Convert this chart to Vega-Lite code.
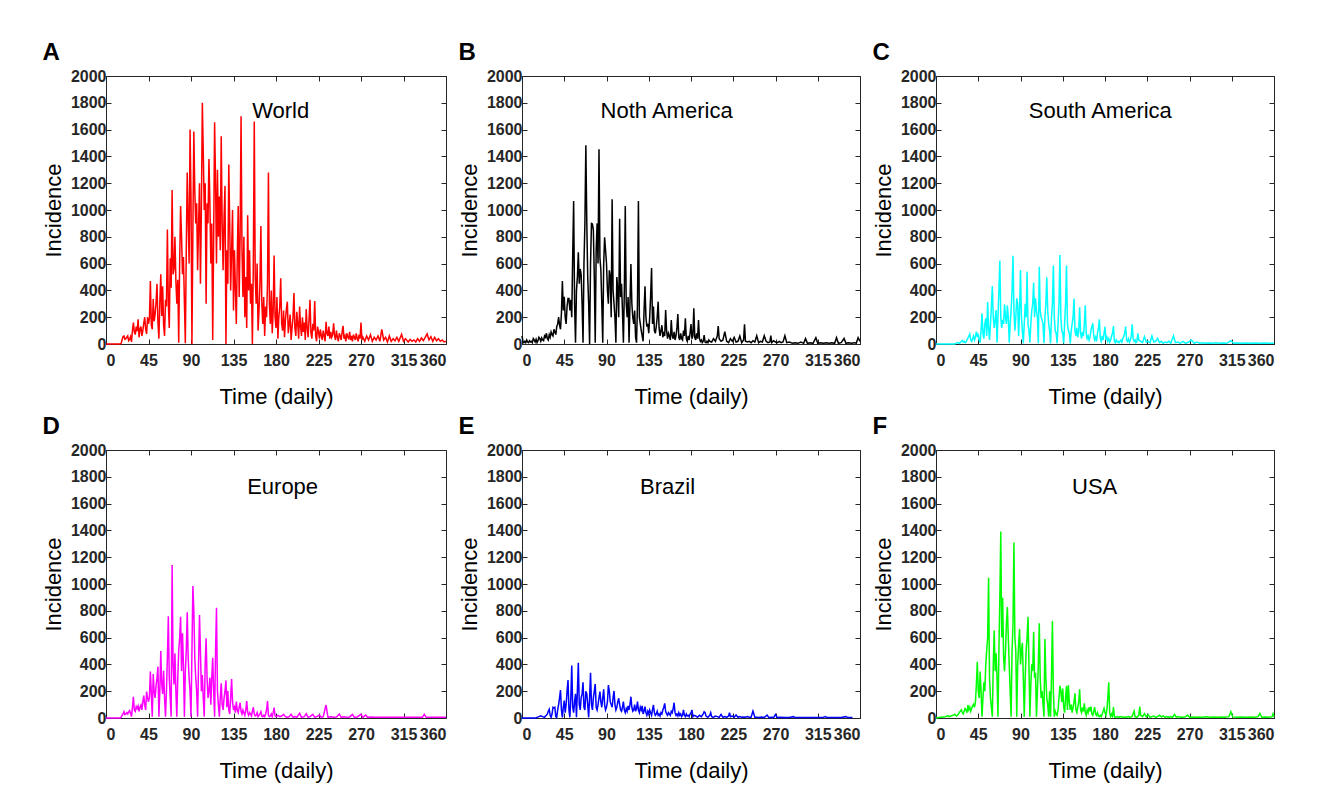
{
"$schema": "https://vega.github.io/schema/vega-lite/v6.json",
"padding": {"left": 41, "top": 40, "right": 5, "bottom": 5},
"background": "#ffffff",
"datasets": {
"world": [{"d":0,"v":0},{"d":15,"v":0},{"d":16,"v":5},{"d":17,"v":30},{"d":18,"v":55},{"d":19,"v":60},{"d":20,"v":35},{"d":21,"v":40},{"d":22,"v":50},{"d":23,"v":60},{"d":24,"v":25},{"d":25,"v":35},{"d":26,"v":55},{"d":27,"v":15},{"d":28,"v":100},{"d":29,"v":160},{"d":30,"v":90},{"d":31,"v":70},{"d":32,"v":130},{"d":33,"v":95},{"d":34,"v":185},{"d":35,"v":50},{"d":36,"v":110},{"d":37,"v":130},{"d":38,"v":60},{"d":39,"v":100},{"d":40,"v":155},{"d":41,"v":200},{"d":42,"v":110},{"d":43,"v":75},{"d":44,"v":200},{"d":45,"v":150},{"d":46,"v":190},{"d":47,"v":470},{"d":48,"v":140},{"d":49,"v":110},{"d":50,"v":335},{"d":51,"v":170},{"d":52,"v":220},{"d":53,"v":310},{"d":54,"v":450},{"d":55,"v":160},{"d":56,"v":40},{"d":57,"v":310},{"d":58,"v":520},{"d":59,"v":210},{"d":60,"v":430},{"d":61,"v":140},{"d":62,"v":60},{"d":63,"v":330},{"d":64,"v":280},{"d":65,"v":855},{"d":66,"v":300},{"d":67,"v":120},{"d":68,"v":640},{"d":69,"v":420},{"d":70,"v":1150},{"d":71,"v":520},{"d":72,"v":560},{"d":73,"v":800},{"d":74,"v":470},{"d":75,"v":300},{"d":76,"v":480},{"d":77,"v":10},{"d":78,"v":620},{"d":79,"v":1030},{"d":80,"v":800},{"d":81,"v":520},{"d":82,"v":650},{"d":83,"v":320},{"d":84,"v":5},{"d":85,"v":700},{"d":86,"v":1280},{"d":87,"v":930},{"d":88,"v":600},{"d":89,"v":1600},{"d":90,"v":1100},{"d":91,"v":0},{"d":92,"v":850},{"d":93,"v":1585},{"d":94,"v":1150},{"d":95,"v":900},{"d":96,"v":1050},{"d":97,"v":550},{"d":98,"v":880},{"d":99,"v":1200},{"d":100,"v":450},{"d":101,"v":1000},{"d":102,"v":1800},{"d":103,"v":1430},{"d":104,"v":1000},{"d":105,"v":1200},{"d":106,"v":300},{"d":107,"v":1050},{"d":108,"v":900},{"d":109,"v":1380},{"d":110,"v":1050},{"d":111,"v":600},{"d":112,"v":900},{"d":113,"v":30},{"d":114,"v":800},{"d":115,"v":1655},{"d":116,"v":1200},{"d":117,"v":600},{"d":118,"v":1300},{"d":119,"v":800},{"d":120,"v":1100},{"d":121,"v":700},{"d":122,"v":1550},{"d":123,"v":900},{"d":124,"v":550},{"d":125,"v":950},{"d":126,"v":1180},{"d":127,"v":0},{"d":128,"v":700},{"d":129,"v":450},{"d":130,"v":1340},{"d":131,"v":900},{"d":132,"v":400},{"d":133,"v":700},{"d":134,"v":1000},{"d":135,"v":250},{"d":136,"v":700},{"d":137,"v":420},{"d":138,"v":150},{"d":139,"v":650},{"d":140,"v":1030},{"d":141,"v":350},{"d":142,"v":800},{"d":143,"v":1700},{"d":144,"v":700},{"d":145,"v":350},{"d":146,"v":800},{"d":147,"v":200},{"d":148,"v":500},{"d":149,"v":120},{"d":150,"v":960},{"d":151,"v":400},{"d":152,"v":700},{"d":153,"v":300},{"d":154,"v":450},{"d":155,"v":0},{"d":156,"v":600},{"d":157,"v":1660},{"d":158,"v":500},{"d":159,"v":300},{"d":160,"v":600},{"d":161,"v":100},{"d":162,"v":250},{"d":163,"v":450},{"d":164,"v":880},{"d":165,"v":300},{"d":166,"v":150},{"d":167,"v":350},{"d":168,"v":60},{"d":169,"v":280},{"d":170,"v":200},{"d":171,"v":450},{"d":172,"v":1280},{"d":173,"v":300},{"d":174,"v":150},{"d":175,"v":400},{"d":176,"v":80},{"d":177,"v":250},{"d":178,"v":660},{"d":179,"v":200},{"d":180,"v":120},{"d":181,"v":350},{"d":182,"v":40},{"d":183,"v":200},{"d":184,"v":280},{"d":185,"v":490},{"d":186,"v":150},{"d":187,"v":100},{"d":188,"v":250},{"d":189,"v":50},{"d":190,"v":180},{"d":191,"v":260},{"d":192,"v":316},{"d":193,"v":80},{"d":194,"v":150},{"d":195,"v":220},{"d":196,"v":30},{"d":197,"v":120},{"d":198,"v":200},{"d":199,"v":380},{"d":200,"v":120},{"d":201,"v":60},{"d":202,"v":240},{"d":203,"v":150},{"d":204,"v":40},{"d":205,"v":280},{"d":206,"v":130},{"d":207,"v":60},{"d":208,"v":200},{"d":209,"v":90},{"d":210,"v":160},{"d":211,"v":30},{"d":212,"v":260},{"d":213,"v":120},{"d":214,"v":50},{"d":215,"v":180},{"d":216,"v":330},{"d":217,"v":80},{"d":218,"v":40},{"d":219,"v":150},{"d":220,"v":100},{"d":221,"v":320},{"d":222,"v":60},{"d":223,"v":20},{"d":224,"v":130},{"d":225,"v":90},{"d":226,"v":40},{"d":227,"v":110},{"d":228,"v":60},{"d":229,"v":30},{"d":230,"v":100},{"d":231,"v":60},{"d":232,"v":20},{"d":233,"v":165},{"d":234,"v":80},{"d":235,"v":60},{"d":236,"v":130},{"d":237,"v":40},{"d":238,"v":90},{"d":239,"v":50},{"d":240,"v":70},{"d":241,"v":155},{"d":242,"v":60},{"d":243,"v":30},{"d":244,"v":100},{"d":245,"v":50},{"d":246,"v":20},{"d":247,"v":80},{"d":248,"v":60},{"d":249,"v":30},{"d":250,"v":90},{"d":251,"v":135},{"d":252,"v":40},{"d":253,"v":60},{"d":254,"v":20},{"d":255,"v":80},{"d":256,"v":50},{"d":257,"v":40},{"d":258,"v":90},{"d":259,"v":30},{"d":260,"v":60},{"d":261,"v":20},{"d":262,"v":70},{"d":263,"v":50},{"d":264,"v":30},{"d":265,"v":80},{"d":266,"v":40},{"d":267,"v":20},{"d":268,"v":70},{"d":269,"v":40},{"d":270,"v":160},{"d":271,"v":30},{"d":272,"v":50},{"d":274,"v":20},{"d":276,"v":60},{"d":278,"v":30},{"d":280,"v":70},{"d":282,"v":20},{"d":284,"v":50},{"d":286,"v":30},{"d":288,"v":60},{"d":290,"v":20},{"d":292,"v":110},{"d":294,"v":30},{"d":296,"v":50},{"d":298,"v":15},{"d":300,"v":60},{"d":302,"v":20},{"d":304,"v":40},{"d":306,"v":25},{"d":308,"v":50},{"d":310,"v":20},{"d":313,"v":72},{"d":315,"v":20},{"d":317,"v":40},{"d":320,"v":15},{"d":322,"v":35},{"d":324,"v":20},{"d":326,"v":30},{"d":328,"v":15},{"d":330,"v":40},{"d":332,"v":20},{"d":334,"v":45},{"d":336,"v":25},{"d":338,"v":50},{"d":340,"v":75},{"d":342,"v":30},{"d":344,"v":55},{"d":346,"v":20},{"d":348,"v":50},{"d":350,"v":25},{"d":352,"v":40},{"d":354,"v":20},{"d":356,"v":30},{"d":358,"v":15},{"d":360,"v":20}],
"na": [{"d":0,"v":60},{"d":1,"v":20},{"d":2,"v":10},{"d":3,"v":20},{"d":4,"v":10},{"d":5,"v":30},{"d":6,"v":15},{"d":7,"v":10},{"d":8,"v":25},{"d":9,"v":15},{"d":10,"v":20},{"d":11,"v":10},{"d":12,"v":40},{"d":13,"v":30},{"d":14,"v":15},{"d":15,"v":35},{"d":16,"v":10},{"d":17,"v":25},{"d":18,"v":50},{"d":19,"v":40},{"d":20,"v":20},{"d":21,"v":45},{"d":22,"v":30},{"d":23,"v":25},{"d":24,"v":60},{"d":25,"v":50},{"d":26,"v":80},{"d":27,"v":40},{"d":28,"v":30},{"d":29,"v":70},{"d":30,"v":50},{"d":31,"v":90},{"d":32,"v":70},{"d":33,"v":60},{"d":34,"v":110},{"d":35,"v":90},{"d":36,"v":70},{"d":37,"v":130},{"d":38,"v":150},{"d":39,"v":200},{"d":40,"v":140},{"d":41,"v":110},{"d":42,"v":230},{"d":43,"v":470},{"d":44,"v":250},{"d":45,"v":353},{"d":46,"v":200},{"d":47,"v":150},{"d":48,"v":280},{"d":49,"v":340},{"d":50,"v":340},{"d":51,"v":250},{"d":52,"v":330},{"d":53,"v":200},{"d":54,"v":660},{"d":55,"v":1067},{"d":56,"v":300},{"d":57,"v":10},{"d":58,"v":400},{"d":59,"v":500},{"d":60,"v":685},{"d":61,"v":450},{"d":62,"v":560},{"d":63,"v":520},{"d":64,"v":300},{"d":65,"v":10},{"d":66,"v":600},{"d":67,"v":900},{"d":68,"v":1483},{"d":69,"v":913},{"d":70,"v":500},{"d":71,"v":300},{"d":72,"v":0},{"d":73,"v":600},{"d":74,"v":900},{"d":75,"v":896},{"d":76,"v":850},{"d":77,"v":500},{"d":78,"v":10},{"d":79,"v":700},{"d":80,"v":900},{"d":81,"v":600},{"d":82,"v":1453},{"d":83,"v":644},{"d":84,"v":550},{"d":85,"v":300},{"d":86,"v":10},{"d":87,"v":600},{"d":88,"v":796},{"d":89,"v":700},{"d":90,"v":602},{"d":91,"v":400},{"d":92,"v":300},{"d":93,"v":550},{"d":94,"v":507},{"d":95,"v":200},{"d":96,"v":1080},{"d":97,"v":400},{"d":98,"v":300},{"d":99,"v":200},{"d":100,"v":10},{"d":101,"v":500},{"d":102,"v":400},{"d":103,"v":200},{"d":104,"v":935},{"d":105,"v":350},{"d":106,"v":450},{"d":107,"v":250},{"d":108,"v":10},{"d":109,"v":400},{"d":110,"v":1030},{"d":111,"v":300},{"d":112,"v":200},{"d":113,"v":350},{"d":114,"v":10},{"d":115,"v":300},{"d":116,"v":597},{"d":117,"v":300},{"d":118,"v":200},{"d":119,"v":150},{"d":120,"v":250},{"d":121,"v":50},{"d":122,"v":10},{"d":123,"v":300},{"d":124,"v":1067},{"d":125,"v":200},{"d":126,"v":150},{"d":127,"v":100},{"d":128,"v":60},{"d":129,"v":20},{"d":130,"v":250},{"d":131,"v":430},{"d":132,"v":200},{"d":133,"v":130},{"d":134,"v":150},{"d":135,"v":80},{"d":136,"v":200},{"d":137,"v":360},{"d":138,"v":567},{"d":139,"v":150},{"d":140,"v":280},{"d":141,"v":100},{"d":142,"v":80},{"d":143,"v":130},{"d":144,"v":200},{"d":145,"v":316},{"d":146,"v":120},{"d":147,"v":60},{"d":148,"v":100},{"d":149,"v":140},{"d":150,"v":50},{"d":151,"v":90},{"d":152,"v":60},{"d":153,"v":254},{"d":154,"v":100},{"d":155,"v":40},{"d":156,"v":80},{"d":157,"v":60},{"d":158,"v":30},{"d":159,"v":179},{"d":160,"v":60},{"d":161,"v":40},{"d":162,"v":90},{"d":163,"v":30},{"d":164,"v":60},{"d":165,"v":120},{"d":166,"v":224},{"d":167,"v":50},{"d":168,"v":30},{"d":169,"v":80},{"d":170,"v":40},{"d":171,"v":30},{"d":172,"v":100},{"d":173,"v":60},{"d":174,"v":192},{"d":175,"v":40},{"d":176,"v":20},{"d":177,"v":60},{"d":178,"v":30},{"d":179,"v":80},{"d":180,"v":149},{"d":181,"v":40},{"d":182,"v":60},{"d":183,"v":266},{"d":184,"v":50},{"d":185,"v":30},{"d":186,"v":80},{"d":187,"v":40},{"d":188,"v":179},{"d":189,"v":40},{"d":190,"v":20},{"d":191,"v":30},{"d":192,"v":10},{"d":193,"v":20},{"d":194,"v":67},{"d":195,"v":15},{"d":196,"v":10},{"d":197,"v":20},{"d":198,"v":10},{"d":199,"v":30},{"d":200,"v":20},{"d":202,"v":15},{"d":204,"v":40},{"d":206,"v":20},{"d":208,"v":60},{"d":209,"v":134},{"d":210,"v":40},{"d":212,"v":20},{"d":214,"v":30},{"d":216,"v":92},{"d":218,"v":20},{"d":220,"v":10},{"d":222,"v":40},{"d":224,"v":20},{"d":226,"v":50},{"d":228,"v":15},{"d":230,"v":20},{"d":232,"v":60},{"d":234,"v":10},{"d":236,"v":30},{"d":237,"v":147},{"d":238,"v":20},{"d":240,"v":15},{"d":242,"v":20},{"d":244,"v":10},{"d":246,"v":25},{"d":248,"v":15},{"d":250,"v":62},{"d":252,"v":10},{"d":254,"v":20},{"d":256,"v":15},{"d":258,"v":62},{"d":260,"v":20},{"d":262,"v":10},{"d":264,"v":15},{"d":265,"v":62},{"d":266,"v":10},{"d":268,"v":25},{"d":270,"v":15},{"d":272,"v":10},{"d":274,"v":20},{"d":276,"v":10},{"d":278,"v":15},{"d":280,"v":62},{"d":282,"v":10},{"d":285,"v":15},{"d":288,"v":5},{"d":291,"v":10},{"d":294,"v":5},{"d":297,"v":15},{"d":300,"v":5},{"d":302,"v":40},{"d":304,"v":5},{"d":307,"v":10},{"d":310,"v":5},{"d":313,"v":47},{"d":315,"v":5},{"d":318,"v":10},{"d":321,"v":5},{"d":324,"v":10},{"d":327,"v":5},{"d":330,"v":10},{"d":333,"v":5},{"d":335,"v":47},{"d":337,"v":5},{"d":340,"v":10},{"d":343,"v":42},{"d":345,"v":5},{"d":348,"v":10},{"d":351,"v":5},{"d":354,"v":10},{"d":356,"v":5},{"d":358,"v":47},{"d":360,"v":20}],
"sa": [{"d":0,"v":0},{"d":20,"v":0},{"d":21,"v":5},{"d":23,"v":10},{"d":25,"v":5},{"d":27,"v":20},{"d":28,"v":25},{"d":29,"v":15},{"d":30,"v":20},{"d":31,"v":10},{"d":32,"v":15},{"d":33,"v":30},{"d":34,"v":45},{"d":35,"v":60},{"d":36,"v":75},{"d":37,"v":30},{"d":38,"v":20},{"d":39,"v":40},{"d":40,"v":60},{"d":41,"v":30},{"d":42,"v":50},{"d":43,"v":92},{"d":44,"v":60},{"d":45,"v":70},{"d":46,"v":30},{"d":47,"v":10},{"d":48,"v":100},{"d":49,"v":229},{"d":50,"v":80},{"d":51,"v":40},{"d":52,"v":150},{"d":53,"v":192},{"d":54,"v":60},{"d":55,"v":313},{"d":56,"v":120},{"d":57,"v":30},{"d":58,"v":150},{"d":59,"v":280},{"d":60,"v":433},{"d":61,"v":200},{"d":62,"v":120},{"d":63,"v":180},{"d":64,"v":254},{"d":65,"v":10},{"d":66,"v":200},{"d":67,"v":400},{"d":68,"v":622},{"d":69,"v":200},{"d":70,"v":120},{"d":71,"v":180},{"d":72,"v":150},{"d":73,"v":296},{"d":74,"v":200},{"d":75,"v":150},{"d":76,"v":289},{"d":77,"v":200},{"d":78,"v":10},{"d":79,"v":150},{"d":80,"v":250},{"d":81,"v":400},{"d":82,"v":659},{"d":83,"v":250},{"d":84,"v":100},{"d":85,"v":200},{"d":86,"v":341},{"d":87,"v":300},{"d":88,"v":60},{"d":89,"v":250},{"d":90,"v":552},{"d":91,"v":200},{"d":92,"v":100},{"d":93,"v":5},{"d":94,"v":150},{"d":95,"v":300},{"d":96,"v":200},{"d":97,"v":540},{"d":98,"v":150},{"d":99,"v":100},{"d":100,"v":10},{"d":101,"v":150},{"d":102,"v":250},{"d":103,"v":300},{"d":104,"v":458},{"d":105,"v":200},{"d":106,"v":341},{"d":107,"v":250},{"d":108,"v":200},{"d":109,"v":5},{"d":110,"v":577},{"d":111,"v":250},{"d":112,"v":200},{"d":113,"v":180},{"d":114,"v":150},{"d":115,"v":5},{"d":116,"v":200},{"d":117,"v":300},{"d":118,"v":498},{"d":119,"v":250},{"d":120,"v":150},{"d":121,"v":100},{"d":122,"v":5},{"d":123,"v":200},{"d":124,"v":300},{"d":125,"v":585},{"d":126,"v":200},{"d":127,"v":100},{"d":128,"v":80},{"d":129,"v":5},{"d":130,"v":150},{"d":131,"v":300},{"d":132,"v":664},{"d":133,"v":200},{"d":134,"v":100},{"d":135,"v":80},{"d":136,"v":5},{"d":137,"v":150},{"d":138,"v":300},{"d":139,"v":585},{"d":140,"v":150},{"d":141,"v":100},{"d":142,"v":80},{"d":143,"v":5},{"d":144,"v":100},{"d":145,"v":150},{"d":146,"v":200},{"d":147,"v":338},{"d":148,"v":100},{"d":149,"v":60},{"d":150,"v":120},{"d":151,"v":50},{"d":152,"v":100},{"d":153,"v":274},{"d":154,"v":80},{"d":155,"v":40},{"d":156,"v":90},{"d":157,"v":60},{"d":158,"v":150},{"d":159,"v":289},{"d":160,"v":80},{"d":161,"v":40},{"d":162,"v":60},{"d":163,"v":30},{"d":164,"v":50},{"d":165,"v":100},{"d":166,"v":130},{"d":167,"v":154},{"d":168,"v":60},{"d":169,"v":30},{"d":170,"v":50},{"d":171,"v":20},{"d":172,"v":80},{"d":173,"v":120},{"d":174,"v":184},{"d":175,"v":40},{"d":176,"v":20},{"d":177,"v":60},{"d":178,"v":30},{"d":179,"v":80},{"d":180,"v":129},{"d":181,"v":30},{"d":182,"v":50},{"d":183,"v":20},{"d":184,"v":40},{"d":185,"v":15},{"d":186,"v":30},{"d":187,"v":60},{"d":188,"v":80},{"d":189,"v":134},{"d":190,"v":20},{"d":191,"v":10},{"d":192,"v":30},{"d":193,"v":15},{"d":194,"v":20},{"d":195,"v":10},{"d":196,"v":20},{"d":197,"v":30},{"d":198,"v":15},{"d":199,"v":40},{"d":200,"v":60},{"d":201,"v":80},{"d":202,"v":129},{"d":203,"v":30},{"d":204,"v":20},{"d":205,"v":40},{"d":206,"v":15},{"d":207,"v":30},{"d":208,"v":60},{"d":209,"v":147},{"d":210,"v":40},{"d":211,"v":20},{"d":212,"v":30},{"d":213,"v":10},{"d":214,"v":20},{"d":215,"v":80},{"d":216,"v":30},{"d":218,"v":20},{"d":220,"v":10},{"d":222,"v":55},{"d":224,"v":15},{"d":226,"v":20},{"d":228,"v":10},{"d":230,"v":60},{"d":232,"v":15},{"d":234,"v":20},{"d":236,"v":42},{"d":238,"v":10},{"d":240,"v":20},{"d":242,"v":5},{"d":244,"v":15},{"d":246,"v":10},{"d":248,"v":20},{"d":250,"v":5},{"d":253,"v":60},{"d":255,"v":10},{"d":258,"v":15},{"d":260,"v":5},{"d":263,"v":20},{"d":266,"v":5},{"d":269,"v":15},{"d":272,"v":30},{"d":275,"v":5},{"d":278,"v":15},{"d":281,"v":5},{"d":284,"v":10},{"d":287,"v":5},{"d":290,"v":8},{"d":294,"v":5},{"d":298,"v":10},{"d":302,"v":5},{"d":306,"v":8},{"d":310,"v":5},{"d":314,"v":25},{"d":317,"v":5},{"d":320,"v":8},{"d":325,"v":5},{"d":330,"v":8},{"d":335,"v":5},{"d":340,"v":8},{"d":345,"v":5},{"d":350,"v":8},{"d":355,"v":5},{"d":360,"v":5}],
"eu": [{"d":0,"v":0},{"d":15,"v":0},{"d":16,"v":5},{"d":17,"v":20},{"d":18,"v":30},{"d":19,"v":47},{"d":20,"v":25},{"d":21,"v":30},{"d":22,"v":40},{"d":23,"v":30},{"d":24,"v":45},{"d":25,"v":55},{"d":26,"v":35},{"d":27,"v":10},{"d":28,"v":80},{"d":29,"v":159},{"d":30,"v":60},{"d":31,"v":50},{"d":32,"v":85},{"d":33,"v":70},{"d":34,"v":90},{"d":35,"v":50},{"d":36,"v":80},{"d":37,"v":97},{"d":38,"v":60},{"d":39,"v":120},{"d":40,"v":167},{"d":41,"v":100},{"d":42,"v":60},{"d":43,"v":197},{"d":44,"v":150},{"d":45,"v":120},{"d":46,"v":160},{"d":47,"v":346},{"d":48,"v":180},{"d":49,"v":10},{"d":50,"v":328},{"d":51,"v":200},{"d":52,"v":150},{"d":53,"v":240},{"d":54,"v":300},{"d":55,"v":383},{"d":56,"v":10},{"d":57,"v":200},{"d":58,"v":500},{"d":59,"v":250},{"d":60,"v":180},{"d":61,"v":353},{"d":62,"v":150},{"d":63,"v":10},{"d":64,"v":200},{"d":65,"v":450},{"d":66,"v":759},{"d":67,"v":300},{"d":68,"v":150},{"d":69,"v":10},{"d":70,"v":1142},{"d":71,"v":400},{"d":72,"v":250},{"d":73,"v":483},{"d":74,"v":200},{"d":75,"v":10},{"d":76,"v":300},{"d":77,"v":500},{"d":78,"v":600},{"d":79,"v":756},{"d":80,"v":350},{"d":81,"v":632},{"d":82,"v":400},{"d":83,"v":10},{"d":84,"v":350},{"d":85,"v":500},{"d":86,"v":789},{"d":87,"v":450},{"d":88,"v":300},{"d":89,"v":200},{"d":90,"v":10},{"d":91,"v":500},{"d":92,"v":985},{"d":93,"v":800},{"d":94,"v":450},{"d":95,"v":300},{"d":96,"v":200},{"d":97,"v":10},{"d":98,"v":400},{"d":99,"v":769},{"d":100,"v":500},{"d":101,"v":200},{"d":102,"v":321},{"d":103,"v":150},{"d":104,"v":10},{"d":105,"v":400},{"d":106,"v":595},{"d":107,"v":300},{"d":108,"v":150},{"d":109,"v":200},{"d":110,"v":301},{"d":111,"v":100},{"d":112,"v":300},{"d":113,"v":450},{"d":114,"v":200},{"d":115,"v":10},{"d":116,"v":500},{"d":117,"v":823},{"d":118,"v":200},{"d":119,"v":100},{"d":120,"v":10},{"d":121,"v":150},{"d":122,"v":259},{"d":123,"v":100},{"d":124,"v":60},{"d":125,"v":150},{"d":126,"v":200},{"d":127,"v":279},{"d":128,"v":80},{"d":129,"v":201},{"d":130,"v":60},{"d":131,"v":30},{"d":132,"v":150},{"d":133,"v":291},{"d":134,"v":120},{"d":135,"v":60},{"d":136,"v":80},{"d":137,"v":40},{"d":138,"v":122},{"d":139,"v":60},{"d":140,"v":40},{"d":141,"v":80},{"d":142,"v":114},{"d":143,"v":50},{"d":144,"v":30},{"d":145,"v":60},{"d":146,"v":40},{"d":147,"v":20},{"d":148,"v":60},{"d":149,"v":127},{"d":150,"v":40},{"d":151,"v":20},{"d":152,"v":40},{"d":153,"v":30},{"d":154,"v":15},{"d":155,"v":50},{"d":156,"v":80},{"d":157,"v":30},{"d":158,"v":15},{"d":159,"v":20},{"d":160,"v":40},{"d":161,"v":10},{"d":162,"v":20},{"d":163,"v":30},{"d":164,"v":47},{"d":165,"v":15},{"d":166,"v":10},{"d":167,"v":20},{"d":168,"v":10},{"d":169,"v":30},{"d":170,"v":60},{"d":171,"v":127},{"d":172,"v":20},{"d":173,"v":10},{"d":174,"v":15},{"d":175,"v":30},{"d":176,"v":10},{"d":177,"v":40},{"d":178,"v":77},{"d":179,"v":15},{"d":180,"v":10},{"d":182,"v":20},{"d":184,"v":10},{"d":186,"v":15},{"d":188,"v":27},{"d":190,"v":10},{"d":192,"v":5},{"d":194,"v":10},{"d":196,"v":27},{"d":198,"v":5},{"d":200,"v":10},{"d":202,"v":5},{"d":205,"v":35},{"d":207,"v":5},{"d":210,"v":10},{"d":212,"v":32},{"d":214,"v":5},{"d":216,"v":10},{"d":219,"v":27},{"d":221,"v":5},{"d":223,"v":10},{"d":226,"v":22},{"d":228,"v":5},{"d":230,"v":10},{"d":233,"v":97},{"d":235,"v":5},{"d":238,"v":10},{"d":241,"v":5},{"d":244,"v":8},{"d":247,"v":30},{"d":249,"v":5},{"d":252,"v":10},{"d":255,"v":5},{"d":258,"v":8},{"d":261,"v":27},{"d":263,"v":5},{"d":266,"v":8},{"d":270,"v":27},{"d":272,"v":5},{"d":275,"v":22},{"d":277,"v":5},{"d":280,"v":8},{"d":285,"v":5},{"d":290,"v":5},{"d":295,"v":5},{"d":300,"v":5},{"d":305,"v":5},{"d":310,"v":5},{"d":315,"v":5},{"d":320,"v":5},{"d":325,"v":5},{"d":330,"v":5},{"d":335,"v":5},{"d":337,"v":27},{"d":339,"v":5},{"d":345,"v":5},{"d":350,"v":5},{"d":355,"v":5},{"d":360,"v":5}],
"br": [{"d":0,"v":0},{"d":15,"v":0},{"d":16,"v":5},{"d":18,"v":10},{"d":20,"v":17},{"d":22,"v":10},{"d":24,"v":5},{"d":25,"v":15},{"d":26,"v":20},{"d":27,"v":30},{"d":28,"v":50},{"d":29,"v":65},{"d":30,"v":20},{"d":31,"v":5},{"d":32,"v":30},{"d":33,"v":80},{"d":34,"v":75},{"d":35,"v":80},{"d":36,"v":10},{"d":37,"v":5},{"d":38,"v":60},{"d":39,"v":100},{"d":40,"v":150},{"d":41,"v":209},{"d":42,"v":60},{"d":43,"v":5},{"d":44,"v":80},{"d":45,"v":130},{"d":46,"v":40},{"d":47,"v":100},{"d":48,"v":200},{"d":49,"v":284},{"d":50,"v":60},{"d":51,"v":5},{"d":52,"v":150},{"d":53,"v":391},{"d":54,"v":80},{"d":55,"v":40},{"d":56,"v":120},{"d":57,"v":180},{"d":58,"v":5},{"d":59,"v":200},{"d":60,"v":413},{"d":61,"v":100},{"d":62,"v":60},{"d":63,"v":150},{"d":64,"v":180},{"d":65,"v":266},{"d":66,"v":80},{"d":67,"v":60},{"d":68,"v":200},{"d":69,"v":180},{"d":70,"v":100},{"d":71,"v":5},{"d":72,"v":150},{"d":73,"v":338},{"d":74,"v":100},{"d":75,"v":60},{"d":76,"v":150},{"d":77,"v":200},{"d":78,"v":254},{"d":79,"v":80},{"d":80,"v":60},{"d":81,"v":100},{"d":82,"v":150},{"d":83,"v":197},{"d":84,"v":120},{"d":85,"v":80},{"d":86,"v":150},{"d":87,"v":214},{"d":88,"v":100},{"d":89,"v":60},{"d":90,"v":80},{"d":91,"v":120},{"d":92,"v":246},{"d":93,"v":200},{"d":94,"v":120},{"d":95,"v":100},{"d":96,"v":80},{"d":97,"v":150},{"d":98,"v":202},{"d":99,"v":100},{"d":100,"v":60},{"d":101,"v":80},{"d":102,"v":120},{"d":103,"v":147},{"d":104,"v":100},{"d":105,"v":60},{"d":106,"v":50},{"d":107,"v":80},{"d":108,"v":122},{"d":109,"v":60},{"d":110,"v":40},{"d":111,"v":70},{"d":112,"v":50},{"d":113,"v":90},{"d":114,"v":60},{"d":115,"v":100},{"d":116,"v":159},{"d":117,"v":80},{"d":118,"v":50},{"d":119,"v":60},{"d":120,"v":100},{"d":121,"v":50},{"d":122,"v":70},{"d":123,"v":122},{"d":124,"v":60},{"d":125,"v":40},{"d":126,"v":80},{"d":127,"v":60},{"d":128,"v":90},{"d":129,"v":30},{"d":130,"v":50},{"d":131,"v":85},{"d":132,"v":40},{"d":133,"v":20},{"d":134,"v":50},{"d":135,"v":30},{"d":136,"v":60},{"d":137,"v":40},{"d":138,"v":20},{"d":139,"v":60},{"d":140,"v":97},{"d":141,"v":40},{"d":142,"v":20},{"d":143,"v":30},{"d":144,"v":50},{"d":145,"v":20},{"d":146,"v":30},{"d":147,"v":15},{"d":148,"v":40},{"d":149,"v":30},{"d":150,"v":60},{"d":151,"v":80},{"d":152,"v":109},{"d":153,"v":50},{"d":154,"v":30},{"d":155,"v":20},{"d":156,"v":40},{"d":157,"v":30},{"d":158,"v":20},{"d":159,"v":50},{"d":160,"v":40},{"d":161,"v":70},{"d":162,"v":114},{"d":163,"v":40},{"d":164,"v":20},{"d":165,"v":30},{"d":166,"v":15},{"d":167,"v":40},{"d":168,"v":20},{"d":169,"v":30},{"d":170,"v":10},{"d":171,"v":20},{"d":172,"v":60},{"d":173,"v":20},{"d":174,"v":10},{"d":175,"v":30},{"d":176,"v":15},{"d":177,"v":20},{"d":178,"v":10},{"d":179,"v":30},{"d":180,"v":40},{"d":181,"v":60},{"d":182,"v":10},{"d":183,"v":20},{"d":185,"v":15},{"d":187,"v":5},{"d":189,"v":20},{"d":191,"v":10},{"d":193,"v":30},{"d":194,"v":47},{"d":195,"v":40},{"d":196,"v":15},{"d":198,"v":5},{"d":200,"v":20},{"d":201,"v":40},{"d":202,"v":10},{"d":204,"v":5},{"d":206,"v":15},{"d":208,"v":10},{"d":210,"v":5},{"d":212,"v":27},{"d":214,"v":5},{"d":216,"v":10},{"d":218,"v":5},{"d":220,"v":15},{"d":221,"v":40},{"d":222,"v":10},{"d":224,"v":15},{"d":226,"v":5},{"d":228,"v":22},{"d":230,"v":5},{"d":232,"v":10},{"d":234,"v":5},{"d":236,"v":8},{"d":238,"v":5},{"d":240,"v":10},{"d":242,"v":5},{"d":244,"v":5},{"d":246,"v":52},{"d":248,"v":5},{"d":250,"v":5},{"d":252,"v":3},{"d":255,"v":8},{"d":258,"v":3},{"d":261,"v":22},{"d":263,"v":3},{"d":266,"v":5},{"d":268,"v":3},{"d":270,"v":27},{"d":272,"v":3},{"d":275,"v":5},{"d":280,"v":3},{"d":285,"v":3},{"d":289,"v":10},{"d":291,"v":3},{"d":295,"v":3},{"d":300,"v":3},{"d":305,"v":3},{"d":310,"v":3},{"d":315,"v":3},{"d":320,"v":3},{"d":323,"v":10},{"d":325,"v":3},{"d":330,"v":3},{"d":335,"v":3},{"d":340,"v":3},{"d":345,"v":10},{"d":347,"v":3},{"d":350,"v":3},{"d":352,"v":3}],
"us": [{"d":0,"v":0},{"d":5,"v":5},{"d":10,"v":10},{"d":12,"v":15},{"d":13,"v":17},{"d":14,"v":10},{"d":16,"v":15},{"d":18,"v":20},{"d":20,"v":27},{"d":22,"v":15},{"d":24,"v":30},{"d":25,"v":45},{"d":26,"v":50},{"d":27,"v":60},{"d":28,"v":40},{"d":29,"v":30},{"d":30,"v":50},{"d":31,"v":70},{"d":32,"v":60},{"d":33,"v":40},{"d":34,"v":97},{"d":35,"v":60},{"d":36,"v":80},{"d":37,"v":50},{"d":38,"v":72},{"d":39,"v":90},{"d":40,"v":102},{"d":41,"v":80},{"d":42,"v":120},{"d":43,"v":250},{"d":44,"v":420},{"d":45,"v":200},{"d":46,"v":150},{"d":47,"v":346},{"d":48,"v":200},{"d":49,"v":10},{"d":50,"v":150},{"d":51,"v":266},{"d":52,"v":200},{"d":53,"v":400},{"d":54,"v":500},{"d":55,"v":602},{"d":56,"v":1047},{"d":57,"v":300},{"d":58,"v":150},{"d":59,"v":80},{"d":60,"v":10},{"d":61,"v":400},{"d":62,"v":652},{"d":63,"v":350},{"d":64,"v":483},{"d":65,"v":300},{"d":66,"v":10},{"d":67,"v":500},{"d":68,"v":900},{"d":69,"v":1391},{"d":70,"v":600},{"d":71,"v":898},{"d":72,"v":450},{"d":73,"v":350},{"d":74,"v":500},{"d":75,"v":700},{"d":76,"v":828},{"d":77,"v":600},{"d":78,"v":400},{"d":79,"v":200},{"d":80,"v":10},{"d":81,"v":500},{"d":82,"v":700},{"d":83,"v":1309},{"d":84,"v":600},{"d":85,"v":500},{"d":86,"v":10},{"d":87,"v":400},{"d":88,"v":550},{"d":89,"v":664},{"d":90,"v":400},{"d":91,"v":500},{"d":92,"v":560},{"d":93,"v":300},{"d":94,"v":10},{"d":95,"v":300},{"d":96,"v":500},{"d":97,"v":600},{"d":98,"v":756},{"d":99,"v":400},{"d":100,"v":10},{"d":101,"v":250},{"d":102,"v":400},{"d":103,"v":350},{"d":104,"v":644},{"d":105,"v":300},{"d":106,"v":338},{"d":107,"v":10},{"d":108,"v":200},{"d":109,"v":400},{"d":110,"v":707},{"d":111,"v":300},{"d":112,"v":150},{"d":113,"v":201},{"d":114,"v":100},{"d":115,"v":10},{"d":116,"v":590},{"d":117,"v":300},{"d":118,"v":150},{"d":119,"v":100},{"d":120,"v":10},{"d":121,"v":200},{"d":122,"v":10},{"d":123,"v":300},{"d":124,"v":724},{"d":125,"v":200},{"d":126,"v":10},{"d":127,"v":50},{"d":128,"v":30},{"d":129,"v":20},{"d":130,"v":60},{"d":131,"v":150},{"d":132,"v":241},{"d":133,"v":200},{"d":134,"v":120},{"d":135,"v":220},{"d":136,"v":80},{"d":137,"v":40},{"d":138,"v":150},{"d":139,"v":239},{"d":140,"v":60},{"d":141,"v":246},{"d":142,"v":120},{"d":143,"v":60},{"d":144,"v":100},{"d":145,"v":40},{"d":146,"v":80},{"d":147,"v":120},{"d":148,"v":184},{"d":149,"v":60},{"d":150,"v":40},{"d":151,"v":80},{"d":152,"v":120},{"d":153,"v":214},{"d":154,"v":60},{"d":155,"v":40},{"d":156,"v":80},{"d":157,"v":50},{"d":158,"v":109},{"d":159,"v":40},{"d":160,"v":20},{"d":161,"v":60},{"d":162,"v":40},{"d":163,"v":80},{"d":164,"v":50},{"d":165,"v":85},{"d":166,"v":30},{"d":167,"v":20},{"d":168,"v":50},{"d":169,"v":80},{"d":170,"v":30},{"d":171,"v":20},{"d":172,"v":40},{"d":173,"v":15},{"d":174,"v":10},{"d":175,"v":20},{"d":176,"v":10},{"d":177,"v":30},{"d":178,"v":50},{"d":179,"v":72},{"d":180,"v":40},{"d":181,"v":20},{"d":182,"v":60},{"d":183,"v":150},{"d":184,"v":266},{"d":185,"v":40},{"d":186,"v":10},{"d":187,"v":30},{"d":188,"v":15},{"d":189,"v":82},{"d":190,"v":10},{"d":191,"v":5},{"d":193,"v":10},{"d":195,"v":5},{"d":197,"v":10},{"d":199,"v":5},{"d":201,"v":8},{"d":203,"v":5},{"d":205,"v":10},{"d":207,"v":5},{"d":209,"v":15},{"d":211,"v":52},{"d":212,"v":10},{"d":214,"v":5},{"d":216,"v":20},{"d":217,"v":85},{"d":218,"v":20},{"d":220,"v":10},{"d":222,"v":32},{"d":224,"v":8},{"d":226,"v":25},{"d":228,"v":5},{"d":230,"v":10},{"d":232,"v":15},{"d":234,"v":5},{"d":236,"v":10},{"d":238,"v":20},{"d":240,"v":8},{"d":242,"v":15},{"d":244,"v":5},{"d":246,"v":10},{"d":248,"v":5},{"d":250,"v":10},{"d":252,"v":5},{"d":254,"v":27},{"d":256,"v":5},{"d":258,"v":10},{"d":260,"v":5},{"d":262,"v":8},{"d":264,"v":5},{"d":266,"v":10},{"d":268,"v":22},{"d":270,"v":5},{"d":273,"v":8},{"d":276,"v":5},{"d":280,"v":8},{"d":284,"v":5},{"d":288,"v":10},{"d":292,"v":5},{"d":296,"v":8},{"d":300,"v":5},{"d":304,"v":8},{"d":308,"v":5},{"d":312,"v":10},{"d":314,"v":47},{"d":316,"v":8},{"d":320,"v":5},{"d":325,"v":8},{"d":330,"v":5},{"d":335,"v":8},{"d":340,"v":5},{"d":343,"v":10},{"d":345,"v":35},{"d":347,"v":5},{"d":350,"v":8},{"d":355,"v":5},{"d":358,"v":10},{"d":359,"v":32},{"d":360,"v":10}]
},
"columns": 3,
"spacing": {"row": 106, "column": 76},
"bounds": "flush",
"concat": [
{"title": "A", "width": 340, "height": 268, "resolve": {"axis": {"x": "independent", "y": "independent"}}, "layer": [
{"data": {"name": "world"}, "mark": {"type": "line", "color": "#ff0000", "strokeWidth": 1.5}, "encoding": {"x": {"field": "d", "type": "quantitative", "scale": {"domain": [0, 360], "nice": false, "zero": false}, "axis": {"values": [0,45,90,135,180,225,270,315,360], "format": "d", "title": "Time (daily)"}}, "y": {"field": "v", "type": "quantitative", "scale": {"domain": [0, 2000], "nice": false}, "axis": {"values": [0,200,400,600,800,1000,1200,1400,1600,1800,2000], "format": "d", "title": "Incidence"}}}},
{"data": {"values": [{"t": "World"}]}, "mark": {"type": "text", "fontSize": 22, "font": "Liberation Sans", "color": "#000000"}, "encoding": {"x": {"datum": 185, "type": "quantitative", "axis": {"orient": "top", "values": [0,45,90,135,180,225,270,315,360], "labels": false, "title": null, "domain": false}}, "y": {"datum": 1740, "type": "quantitative", "axis": {"orient": "right", "values": [0,200,400,600,800,1000,1200,1400,1600,1800,2000], "labels": false, "title": null, "domain": false}}, "text": {"field": "t"}}}
]},
{"title": "B", "width": 338, "height": 268, "resolve": {"axis": {"x": "independent", "y": "independent"}}, "layer": [
{"data": {"name": "na"}, "mark": {"type": "line", "color": "#000000", "strokeWidth": 1.5}, "encoding": {"x": {"field": "d", "type": "quantitative", "scale": {"domain": [0, 360], "nice": false, "zero": false}, "axis": {"values": [0,45,90,135,180,225,270,315,360], "format": "d", "title": "Time (daily)"}}, "y": {"field": "v", "type": "quantitative", "scale": {"domain": [0, 2000], "nice": false}, "axis": {"values": [0,200,400,600,800,1000,1200,1400,1600,1800,2000], "format": "d", "title": "Incidence"}}}},
{"data": {"values": [{"t": "Noth America"}]}, "mark": {"type": "text", "fontSize": 22, "font": "Liberation Sans", "color": "#000000"}, "encoding": {"x": {"datum": 154, "type": "quantitative", "axis": {"orient": "top", "values": [0,45,90,135,180,225,270,315,360], "labels": false, "title": null, "domain": false}}, "y": {"datum": 1740, "type": "quantitative", "axis": {"orient": "right", "values": [0,200,400,600,800,1000,1200,1400,1600,1800,2000], "labels": false, "title": null, "domain": false}}, "text": {"field": "t"}}}
]},
{"title": "C", "width": 338, "height": 268, "resolve": {"axis": {"x": "independent", "y": "independent"}}, "layer": [
{"data": {"name": "sa"}, "mark": {"type": "line", "color": "#00ffff", "strokeWidth": 1.5}, "encoding": {"x": {"field": "d", "type": "quantitative", "scale": {"domain": [0, 360], "nice": false, "zero": false}, "axis": {"values": [0,45,90,135,180,225,270,315,360], "format": "d", "title": "Time (daily)"}}, "y": {"field": "v", "type": "quantitative", "scale": {"domain": [0, 2000], "nice": false}, "axis": {"values": [0,200,400,600,800,1000,1200,1400,1600,1800,2000], "format": "d", "title": "Incidence"}}}},
{"data": {"values": [{"t": "South America"}]}, "mark": {"type": "text", "fontSize": 22, "font": "Liberation Sans", "color": "#000000"}, "encoding": {"x": {"datum": 175, "type": "quantitative", "axis": {"orient": "top", "values": [0,45,90,135,180,225,270,315,360], "labels": false, "title": null, "domain": false}}, "y": {"datum": 1740, "type": "quantitative", "axis": {"orient": "right", "values": [0,200,400,600,800,1000,1200,1400,1600,1800,2000], "labels": false, "title": null, "domain": false}}, "text": {"field": "t"}}}
]},
{"title": "D", "width": 340, "height": 268, "resolve": {"axis": {"x": "independent", "y": "independent"}}, "layer": [
{"data": {"name": "eu"}, "mark": {"type": "line", "color": "#ff00ff", "strokeWidth": 1.5}, "encoding": {"x": {"field": "d", "type": "quantitative", "scale": {"domain": [0, 360], "nice": false, "zero": false}, "axis": {"values": [0,45,90,135,180,225,270,315,360], "format": "d", "title": "Time (daily)"}}, "y": {"field": "v", "type": "quantitative", "scale": {"domain": [0, 2000], "nice": false}, "axis": {"values": [0,200,400,600,800,1000,1200,1400,1600,1800,2000], "format": "d", "title": "Incidence"}}}},
{"data": {"values": [{"t": "Europe"}]}, "mark": {"type": "text", "fontSize": 22, "font": "Liberation Sans", "color": "#000000"}, "encoding": {"x": {"datum": 187, "type": "quantitative", "axis": {"orient": "top", "values": [0,45,90,135,180,225,270,315,360], "labels": false, "title": null, "domain": false}}, "y": {"datum": 1725, "type": "quantitative", "axis": {"orient": "right", "values": [0,200,400,600,800,1000,1200,1400,1600,1800,2000], "labels": false, "title": null, "domain": false}}, "text": {"field": "t"}}}
]},
{"title": "E", "width": 338, "height": 268, "resolve": {"axis": {"x": "independent", "y": "independent"}}, "layer": [
{"data": {"name": "br"}, "mark": {"type": "line", "color": "#0000ff", "strokeWidth": 1.5}, "encoding": {"x": {"field": "d", "type": "quantitative", "scale": {"domain": [0, 360], "nice": false, "zero": false}, "axis": {"values": [0,45,90,135,180,225,270,315,360], "format": "d", "title": "Time (daily)"}}, "y": {"field": "v", "type": "quantitative", "scale": {"domain": [0, 2000], "nice": false}, "axis": {"values": [0,200,400,600,800,1000,1200,1400,1600,1800,2000], "format": "d", "title": "Incidence"}}}},
{"data": {"values": [{"t": "Brazil"}]}, "mark": {"type": "text", "fontSize": 22, "font": "Liberation Sans", "color": "#000000"}, "encoding": {"x": {"datum": 155, "type": "quantitative", "axis": {"orient": "top", "values": [0,45,90,135,180,225,270,315,360], "labels": false, "title": null, "domain": false}}, "y": {"datum": 1725, "type": "quantitative", "axis": {"orient": "right", "values": [0,200,400,600,800,1000,1200,1400,1600,1800,2000], "labels": false, "title": null, "domain": false}}, "text": {"field": "t"}}}
]},
{"title": "F", "width": 338, "height": 268, "resolve": {"axis": {"x": "independent", "y": "independent"}}, "layer": [
{"data": {"name": "us"}, "mark": {"type": "line", "color": "#00ff00", "strokeWidth": 1.5}, "encoding": {"x": {"field": "d", "type": "quantitative", "scale": {"domain": [0, 360], "nice": false, "zero": false}, "axis": {"values": [0,45,90,135,180,225,270,315,360], "format": "d", "title": "Time (daily)"}}, "y": {"field": "v", "type": "quantitative", "scale": {"domain": [0, 2000], "nice": false}, "axis": {"values": [0,200,400,600,800,1000,1200,1400,1600,1800,2000], "format": "d", "title": "Incidence"}}}},
{"data": {"values": [{"t": "USA"}]}, "mark": {"type": "text", "fontSize": 22, "font": "Liberation Sans", "color": "#000000"}, "encoding": {"x": {"datum": 169, "type": "quantitative", "axis": {"orient": "top", "values": [0,45,90,135,180,225,270,315,360], "labels": false, "title": null, "domain": false}}, "y": {"datum": 1725, "type": "quantitative", "axis": {"orient": "right", "values": [0,200,400,600,800,1000,1200,1400,1600,1800,2000], "labels": false, "title": null, "domain": false}}, "text": {"field": "t"}}}
]}
],
"config": {
"font": "Liberation Sans",
"view": {"stroke": "#262626", "strokeWidth": 1},
"title": {"anchor": "start", "frame": "bounds", "fontSize": 24, "fontWeight": "bold", "font": "Liberation Sans", "color": "#000000", "offset": 3},
"axis": {"labelFont": "Liberation Sans", "labelFontSize": 16, "labelFontWeight": "bold", "labelColor": "#262626", "titleFont": "Liberation Sans", "titleFontSize": 22, "titleFontWeight": "normal", "titleColor": "#000000", "domainColor": "#262626", "tickColor": "#262626", "tickSize": -5, "grid": false},
"axisX": {"labelPadding": 13, "titlePadding": 18},
"axisY": {"labelPadding": 5, "titlePadding": 5}
}
}
